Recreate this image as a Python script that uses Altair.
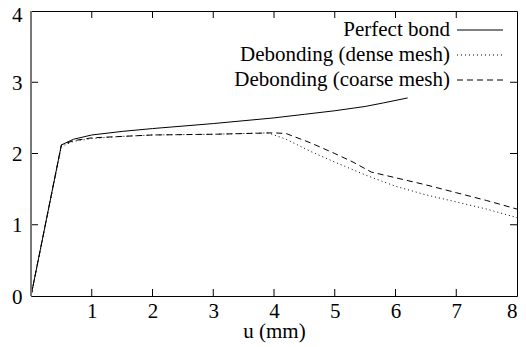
import altair as alt
import pandas as pd

perfect_u = [0, 0.5, 0.7, 1.0, 1.5, 2.0, 3.0, 4.0, 4.5, 5.0, 5.5, 5.8, 6.2]
perfect_f = [0, 2.12, 2.2, 2.26, 2.31, 2.35, 2.42, 2.5, 2.55, 2.6, 2.66, 2.71, 2.78]

dense_u = [0, 0.5, 0.7, 1.0, 1.5, 2.0, 3.0, 3.9, 4.2, 4.6, 5.0, 5.5, 6.0, 6.5, 7.0, 7.5, 8.0]
dense_f = [0, 2.1, 2.17, 2.21, 2.24, 2.26, 2.27, 2.29, 2.2, 2.03, 1.88, 1.7, 1.54, 1.42, 1.32, 1.22, 1.1]

coarse_u = [0, 0.5, 0.7, 1.0, 1.5, 2.0, 3.0, 4.0, 4.2, 4.6, 5.0, 5.3, 5.6, 6.0, 6.5, 7.0, 7.5, 8.0]
coarse_f = [0, 2.12, 2.18, 2.22, 2.24, 2.26, 2.27, 2.29, 2.28, 2.15, 2.0, 1.88, 1.74, 1.66, 1.56, 1.45, 1.34, 1.22]

series_names = ["Perfect bond", "Debonding (dense mesh)", "Debonding (coarse mesh)"]
x_ticks = [1, 2, 3, 4, 5, 6, 7]
y_ticks = [1, 2, 3]

W, H = 486, 285
FONT = "Liberation Serif, Times New Roman, serif"
FS = 21

xs = alt.Scale(domain=[0, 8], nice=False)
ys = alt.Scale(domain=[0, 4], nice=False)

def line(us, fs, dash):
    df = pd.DataFrame({"u": us, "f": fs})
    m = alt.Chart(df).mark_line(color="black", strokeWidth=1, strokeDash=dash) if dash else \
        alt.Chart(df).mark_line(color="black", strokeWidth=1)
    return m.encode(
        x=alt.X("u:Q", scale=xs, title="u (mm)",
                axis=alt.Axis(values=[1, 2, 3, 4, 5, 6, 7, 8], format="d", ticks=False, domain=False, grid=False,
                              labelFont=FONT, labelFontSize=FS, labelColor="black",
                              labelPadding=4, titleFont=FONT, titleFontSize=FS,
                              titleFontWeight="normal", titleColor="black",
                              titleBaseline="middle", titleY=35)),
        y=alt.Y("f:Q", scale=ys, title=None,
                axis=alt.Axis(values=[0, 1, 2, 3, 4], format="d", ticks=False, domain=False, grid=False,
                              labelFont=FONT, labelFontSize=FS, labelColor="black",
                              labelOffset={"condition": {"test": "datum.value == 4", "value": 4}, "value": 1},
                              labelPadding=9)),
    )

l1 = line(perfect_u, perfect_f, None)
l2 = line(dense_u, dense_f, [1, 3])
l3 = line(coarse_u, coarse_f, [6, 4])

xt = pd.DataFrame({"u": x_ticks})
yt = pd.DataFrame({"f": y_ticks})
TL = 7
bt = alt.Chart(xt).mark_rule(color="black").encode(x=alt.X("u:Q", scale=xs), y=alt.value(H), y2=alt.value(H - TL))
tt = alt.Chart(xt).mark_rule(color="black").encode(x=alt.X("u:Q", scale=xs), y=alt.value(0), y2=alt.value(TL))
lt = alt.Chart(yt).mark_rule(color="black").encode(y=alt.Y("f:Q", scale=ys), x=alt.value(0), x2=alt.value(TL))
rt = alt.Chart(yt).mark_rule(color="black").encode(y=alt.Y("f:Q", scale=ys), x=alt.value(W), x2=alt.value(W - TL))
left_dom = alt.Chart(pd.DataFrame({"a": [0]})).mark_rule(color="#777777", strokeWidth=2).encode(
    x=alt.value(0), y=alt.value(0), y2=alt.value(H))

leg_layers = []
dashes = [None, [1, 3], [6, 4]]
rows = [19, 44, 69]
for name, d, ry in zip(series_names, dashes, rows):
    ldf = pd.DataFrame({"label": [name]})
    leg_layers.append(alt.Chart(ldf).mark_text(font=FONT, fontSize=FS, align="right", baseline="middle", color="black").encode(
        text="label:N", x=alt.value(419), y=alt.value(ry)))
    rk = dict(color="black", strokeWidth=1)
    if d:
        rk["strokeDash"] = d
    leg_layers.append(alt.Chart(ldf).mark_rule(**rk).encode(x=alt.value(426), x2=alt.value(472), y=alt.value(ry)))

chart = alt.layer(l1, l2, l3, bt, tt, lt, rt, left_dom, *leg_layers).properties(
    width=W, height=H, autosize=alt.AutoSizeParams(type="none"),
    padding={"left": 23, "top": 3, "right": 1, "bottom": 50},
).configure_view(stroke="black", strokeWidth=1)

chart.save("out.html", embed_options={"renderer": "svg", "actions": False})
